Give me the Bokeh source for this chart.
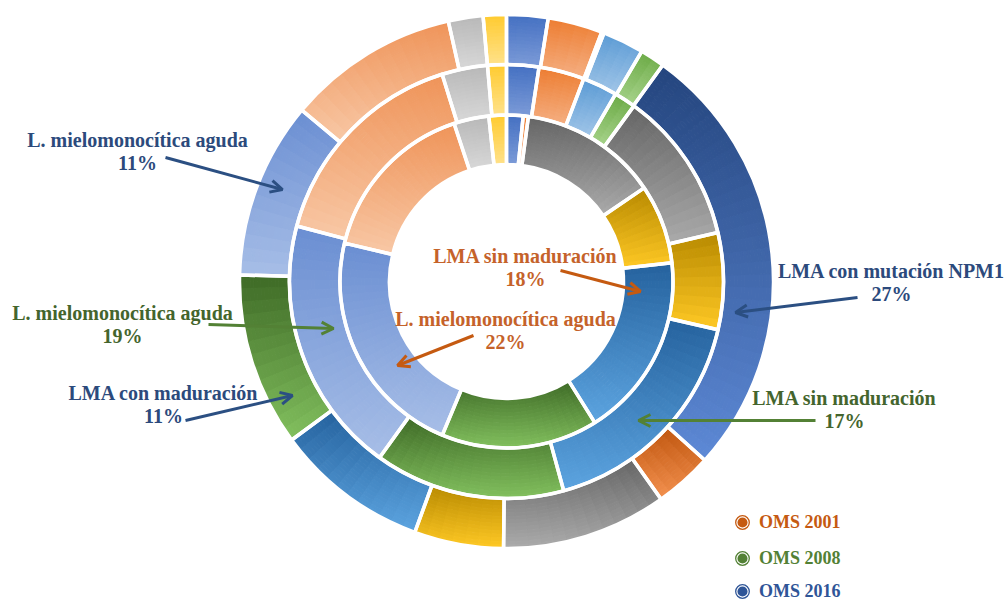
import numpy as np
from bokeh.plotting import figure
from bokeh.models import (ColumnDataSource, Range1d, Arrow, OpenHead, Label,
                          Legend, LegendItem)
from bokeh.embed import file_html
from bokeh.resources import INLINE

# ---------------- data (percent of cases, clockwise from 12 o'clock) ----------------
categories = ["Otro A", "Otro B", "Otro C", "Otro D", "Otro E",
              "LMA con mutación NPM1", "Otro F", "Otro G", "Otro H",
              "LMA sin maduración", "LMA con maduración",
              "L. mielomonocítica aguda", "Otro I", "Otro J", "Otro K"]
oms_2001 = [1.6, 0.5, 0.0, 0.0, 0.0, 0.0, 0.0, 13.4, 7.7, 17.9, 15.2, 22.4, 16.2, 3.4, 1.7]
oms_2008 = [2.4, 3.4, 0.0, 2.6, 1.6, 0.0, 0.0, 11.4, 7.2, 17.2, 14.2, 19.2, 16.1, 3.4, 1.4]
oms_2016 = [2.5, 3.3, 0.15, 2.5, 1.5, 26.7, 3.5, 10.0, 5.4, 9.3, 10.5, 10.7, 10.4, 2.1, 1.4]
series_names = ["OMS 2001", "OMS 2008", "OMS 2016"]

# ---------------- styles ----------------
dark_colors = ["#4470C2", "#ED7D31", "#F5A623", "#5B9BD5", "#6BAA45", "#24457E", "#C0560F",
               "#656565", "#B88A00", "#25629E", "#3E6A26", "#6A8ED2", "#EF9459", "#B8B8B8", "#FFCB2F"]
light_colors = ["#7D9CD8", "#F5B084", "#FFD36B", "#A2C6E8", "#A8D48C", "#5D89D6", "#F4914F",
                "#ABABAB", "#FFC925", "#5CA4E0", "#82C05E", "#A7BEE7", "#F8C8A6", "#D9D9D9", "#FFE28C"]

W, H = 1004, 602
CX, CY = 506, H - 281
ring_radii = [117, 166.5, 217, 267]

C_BLUE_T, C_GREEN_T, C_ORANGE_T = "#2C4A7C", "#44652D", "#C5622A"
C_BLUE_A, C_GREEN_A, C_ORANGE_A = "#2B4F82", "#538135", "#C55A11"
legend_colors = ["#C55A11", "#538135", "#2F5597"]
FONT = "Liberation Serif"


def hex2rgb(h):
    h = h.lstrip("#")
    return np.array([int(h[i:i + 2], 16) for i in (0, 2, 4)], dtype=float)


def mix(c1, c2, t):
    t = min(max(t, 0.0), 1.0)
    c = hex2rgb(c1) * (1 - t) + hex2rgb(c2) * t
    return "#%02x%02x%02x" % tuple(int(round(v)) for v in c)


cells = dict(x=[], y=[], r0=[], r1=[], a0=[], a1=[], c=[])
segs = dict(x=[], y=[], r0=[], r1=[], a0=[], a1=[])

for ring, vals in enumerate([oms_2001, oms_2008, oms_2016]):
    r_in, r_out = ring_radii[ring], ring_radii[ring + 1]
    total = float(sum(vals))
    cum = 0.0
    for k, v in enumerate(vals):
        if v <= 0:
            continue
        d1 = cum / total * 360.0
        d2 = (cum + v) / total * 360.0
        cum += v
        s = np.radians(90.0 - d2)
        e = np.radians(90.0 - d1)
        segs["x"].append(CX); segs["y"].append(CY)
        segs["r0"].append(r_in); segs["r1"].append(r_out)
        segs["a0"].append(s); segs["a1"].append(e)
        th = np.linspace(s, e, 80)
        ys = np.concatenate([CY + r_in * np.sin(th), CY + r_out * np.sin(th)])
        ytop, ybot = ys.max(), ys.min()
        span = max(ytop - ybot, 1e-6)
        nA = max(1, int(np.ceil((d2 - d1) / 3.0)))
        nR = 14
        aa = np.linspace(s, e, nA + 1)
        rr = np.linspace(r_in, r_out, nR + 1)
        for i in range(nA):
            for j in range(nR):
                am = 0.5 * (aa[i] + aa[i + 1])
                rm = 0.5 * (rr[j] + rr[j + 1])
                yc = CY + rm * np.sin(am)
                t = (ytop - yc) / span
                cells["x"].append(CX); cells["y"].append(CY)
                cells["r0"].append(rr[j]); cells["r1"].append(rr[j + 1])
                cells["a0"].append(aa[i]); cells["a1"].append(aa[i + 1])
                cells["c"].append(mix(dark_colors[k], light_colors[k], t))

p = figure(width=W, height=H, x_range=Range1d(0, W), y_range=Range1d(0, H),
           output_backend="svg", toolbar_location=None, min_border=0,
           x_axis_type=None, y_axis_type=None)
p.grid.visible = False
p.outline_line_color = None
p.background_fill_color = "white"
p.border_fill_color = "white"

p.annular_wedge(x="x", y="y", inner_radius="r0", outer_radius="r1",
                start_angle="a0", end_angle="a1", fill_color="c", line_color="c",
                line_width=1, source=ColumnDataSource(cells))
p.annular_wedge(x="x", y="y", inner_radius="r0", outer_radius="r1",
                start_angle="a0", end_angle="a1", fill_color=None, line_color="white",
                line_width=3.5, source=ColumnDataSource(segs))

# ---------------- annotations (pixel positions, y from top) ----------------
annotations = [
    ("L. mielomonocítica aguda", "11%", 137, 139, C_BLUE_T, (165, 157, 282, 189), C_BLUE_A),
    ("L. mielomonocítica aguda", "19%", 122, 312, C_GREEN_T, (208, 324, 333, 328), C_GREEN_A),
    ("LMA con maduración", "11%", 163, 392, C_BLUE_T, (185, 420, 292, 395), C_BLUE_A),
    ("LMA sin maduración", "18%", 525, 255, C_ORANGE_T, (560, 270, 640, 291), C_ORANGE_A),
    ("L. mielomonocítica aguda", "22%", 505, 318, C_ORANGE_T, (473, 335, 397, 365), C_ORANGE_A),
    ("LMA con mutación NPM1", "27%", 891, 270, C_BLUE_T, (857, 297, 735, 312), C_BLUE_A),
    ("LMA sin maduración", "17%", 844, 397, C_GREEN_T, (815, 420, 638, 420), C_GREEN_A),
]
for name, pct, tx, ty, tc, (x0, y0, x1, y1), ac in annotations:
    for txt, yy in ((name, ty), (pct, ty + 23)):
        p.add_layout(Label(x=tx, y=H - yy, text=txt, text_align="center",
                           text_baseline="middle", text_font=FONT,
                           text_font_style="bold", text_font_size="20px",
                           text_color=tc))
    p.add_layout(Arrow(x_start=x0, y_start=H - y0, x_end=x1, y_end=H - y1,
                       line_color=ac, line_width=3,
                       end=OpenHead(size=12, line_color=ac, line_width=3)))

# ---------------- legend ----------------
legend_y = [522, 558, 591]
GL = 34
for name, col, ly in zip(series_names, legend_colors, legend_y):
    # legend-only renderers: their single point lies outside the visible range
    dot = p.scatter([-500], [-500], marker="circle", size=12, fill_color=col,
                    line_color="white", line_width=3.5)
    ring = p.scatter([-500], [-500], marker="circle", size=12, fill_color=None,
                     line_color=col, line_width=1.3)
    lg = Legend(items=[LegendItem(label=name, renderers=[dot, ring])],
                location=(742 - GL // 2, H - ly - GL // 2), glyph_width=GL, glyph_height=GL,
                label_standoff=-3, padding=0, margin=0, spacing=0,
                border_line_color=None, background_fill_alpha=0,
                label_text_font=FONT, label_text_font_style="bold",
                label_text_font_size="18px", label_text_color=col,
                label_height=GL)
    p.add_layout(lg)

open("out.html", "w").write(file_html(p, INLINE))
